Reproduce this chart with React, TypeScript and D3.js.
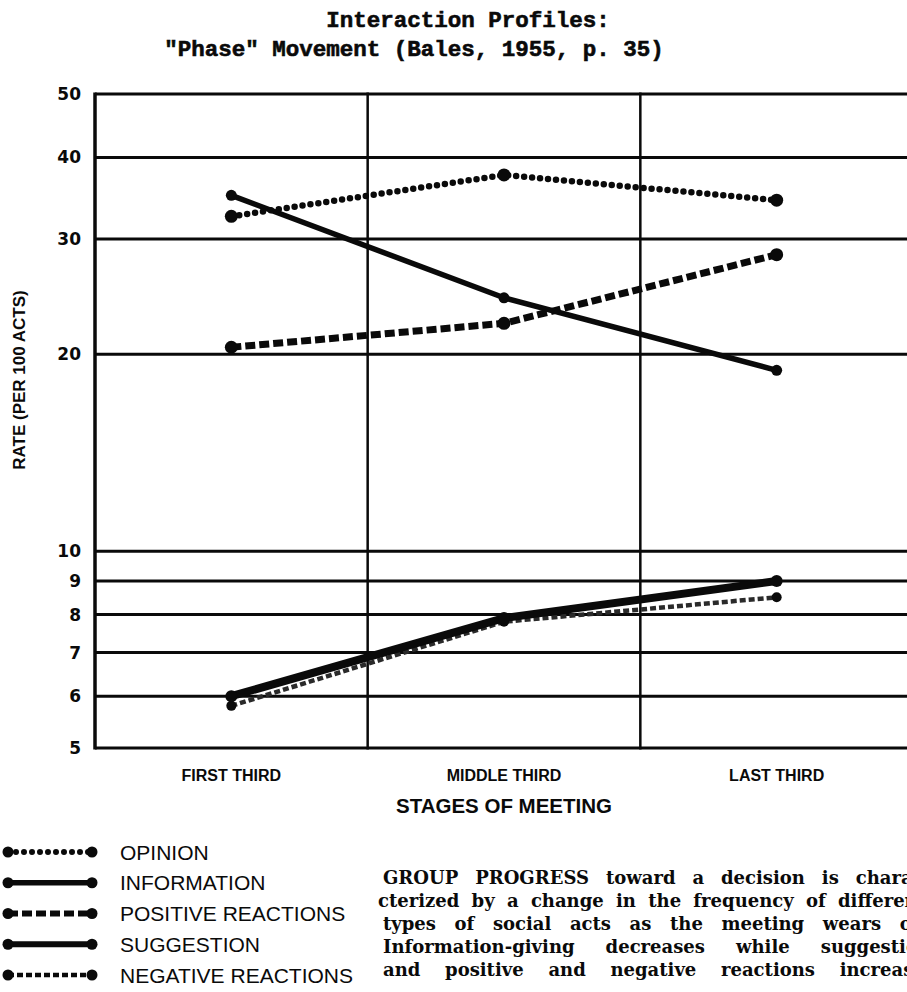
import React, { useEffect, useRef } from 'react';
import * as d3 from 'd3';

// stages on the x axis
const stages = ['FIRST THIRD', 'MIDDLE THIRD', 'LAST THIRD'];
const yTicks = [5, 6, 7, 8, 9, 10, 20, 30, 40, 50];

// rates per 100 acts
const opinion = [32.5, 37.6, 34.4];
const information = [35.0, 24.4, 18.9];
const positiveReactions = [20.5, 22.3, 28.4];
const suggestion = [6.0, 7.9, 9.0];
const negativeReactions = [5.8, 7.8, 8.5];

const seriesNames = ['OPINION', 'INFORMATION', 'POSITIVE REACTIONS', 'SUGGESTION', 'NEGATIVE REACTIONS'];

const paragraph = [
  'GROUP PROGRESS toward a decision is charac-',
  'cterized by a change in the frequency of different',
  'types of social acts as the meeting wears on.',
  'Information-giving decreases while suggestion',
  'and positive and negative reactions increase.',
];

interface LineStyle {
  width: number;
  dash: string | null;
  cap: string;
  r: number;
  color: string;
}

const styles: Record<string, LineStyle> = {
  OPINION: { width: 6.5, dash: '0 8', cap: 'round', r: 6.5, color: '#0a0a0a' },
  INFORMATION: { width: 5.5, dash: null, cap: 'round', r: 5.5, color: '#0a0a0a' },
  'POSITIVE REACTIONS': { width: 7, dash: '10 4', cap: 'butt', r: 6.5, color: '#0a0a0a' },
  SUGGESTION: { width: 8, dash: null, cap: 'round', r: 6, color: '#0a0a0a' },
  'NEGATIVE REACTIONS': { width: 4.5, dash: '6 3', cap: 'butt', r: 5, color: '#2a2a2a' },
};

const W = 907;
const H = 992;
const plot = { left: 95, right: 913, top: 94, bottom: 748 };

const App: React.FC = () => {
  const svgRef = useRef<SVGSVGElement>(null);

  useEffect(() => {
    if (!svgRef.current) return;
    const svg = d3.select(svgRef.current);
    svg.selectAll('*').remove();

    const ink = '#0a0a0a';

    svg.append('rect').attr('width', W).attr('height', H).attr('fill', '#fff');

    const x = d3.scaleBand<string>().domain(stages).range([plot.left, plot.right]);
    const cx = (s: string) => (x(s) as number) + x.bandwidth() / 2;
    const y = d3.scaleLog().domain([5, 50]).range([plot.bottom, plot.top]);

    // title (typewriter)
    const title = svg.append('g')
      .attr('font-family', '"Liberation Mono", "DejaVu Sans Mono", monospace')
      .attr('font-weight', 'bold')
      .attr('font-size', 22.5)
      .attr('fill', ink)
      .attr('stroke', ink)
      .attr('stroke-width', 0.6)
      .attr('text-anchor', 'middle');
    title.append('text').attr('x', 468).attr('y', 27).text('Interaction Profiles:');
    title.append('text').attr('x', 414).attr('y', 56).text('"Phase" Movement (Bales, 1955, p. 35)');

    // horizontal grid lines
    svg.append('g')
      .selectAll('line')
      .data(yTicks)
      .join('line')
      .attr('x1', plot.left)
      .attr('x2', plot.right)
      .attr('y1', (d) => y(d))
      .attr('y2', (d) => y(d))
      .attr('stroke', ink)
      .attr('stroke-width', 3);

    // vertical column borders
    const edges = stages.map((s) => x(s) as number).concat([plot.right]);
    svg.append('g')
      .selectAll('line')
      .data(edges)
      .join('line')
      .attr('x1', (d) => d)
      .attr('x2', (d) => d)
      .attr('y1', plot.top - 1.5)
      .attr('y2', plot.bottom + 1.5)
      .attr('stroke', ink)
      .attr('stroke-width', (_, i) => (i === 0 ? 3.5 : 2.5));

    // y tick labels
    svg.append('g')
      .attr('font-family', '"DejaVu Sans", sans-serif')
      .attr('font-weight', 'bold')
      .attr('font-size', 17)
      .attr('fill', ink)
      .attr('text-anchor', 'end')
      .selectAll('text')
      .data(yTicks)
      .join('text')
      .attr('x', 81)
      .attr('y', (d) => y(d))
      .attr('dy', '0.36em')
      .text((d) => d);

    // y axis title
    svg.append('text')
      .attr('transform', `translate(25, 380) rotate(-90)`)
      .attr('text-anchor', 'middle')
      .attr('font-family', '"Liberation Sans", Arial, sans-serif')
      .attr('font-weight', 'bold')
      .attr('font-size', 17)
      .attr('fill', ink)
      .text('RATE (PER 100 ACTS)');

    // x tick labels
    svg.append('g')
      .attr('font-family', '"Liberation Sans", Arial, sans-serif')
      .attr('font-weight', 'bold')
      .attr('font-size', 16)
      .attr('fill', ink)
      .attr('text-anchor', 'middle')
      .selectAll('text')
      .data(stages)
      .join('text')
      .attr('x', (d) => cx(d))
      .attr('y', 781)
      .text((d) => d);

    svg.append('text')
      .attr('x', cx(stages[1]))
      .attr('y', 813)
      .attr('text-anchor', 'middle')
      .attr('font-family', '"Liberation Sans", Arial, sans-serif')
      .attr('font-weight', 'bold')
      .attr('font-size', 20.5)
      .attr('fill', ink)
      .text('STAGES OF MEETING');

    // series lines, drawn bottom-most first
    const seriesValues = [opinion, information, positiveReactions, suggestion, negativeReactions];
    const order = [4, 3, 2, 1, 0];
    const line = d3.line<[string, number]>()
      .x((d) => cx(d[0]))
      .y((d) => y(d[1]));

    const lines = svg.append('g');
    order.forEach((i) => {
      const name = seriesNames[i];
      const st = styles[name];
      const pts = stages.map((s, j) => [s, seriesValues[i][j]] as [string, number]);
      const g = lines.append('g');
      g.append('path')
        .attr('d', line(pts))
        .attr('fill', 'none')
        .attr('stroke', st.color)
        .attr('stroke-width', st.width)
        .attr('stroke-linecap', st.cap)
        .attr('stroke-linejoin', 'round')
        .attr('stroke-dasharray', st.dash);
      g.selectAll('circle')
        .data(pts)
        .join('circle')
        .attr('cx', (d) => cx(d[0]))
        .attr('cy', (d) => y(d[1]))
        .attr('r', st.r)
        .attr('fill', ink);
    });

    // legend
    const legendY = d3.scalePoint<string>().domain(seriesNames).range([852, 975]);
    const legend = svg.append('g');
    seriesNames.forEach((name) => {
      const st = styles[name];
      const ly = legendY(name) as number;
      legend.append('line')
        .attr('x1', 8)
        .attr('x2', 92)
        .attr('y1', ly)
        .attr('y2', ly)
        .attr('stroke', ink)
        .attr('stroke-width', Math.min(st.width, 6))
        .attr('stroke-linecap', st.cap)
        .attr('stroke-dasharray', st.dash);
      [8, 92].forEach((lx) => {
        legend.append('circle').attr('cx', lx).attr('cy', ly).attr('r', 5.5).attr('fill', ink);
      });
      legend.append('text')
        .attr('x', 120)
        .attr('y', ly)
        .attr('dy', '0.36em')
        .attr('font-family', '"Liberation Sans", Arial, sans-serif')
        .attr('font-size', 21)
        .attr('fill', ink)
        .text(name);
    });

    // caption paragraph: justified by widening word gaps, runs off the right edge
    const para = svg.append('g')
      .attr('font-family', '"DejaVu Serif", "Liberation Serif", serif')
      .attr('font-weight', 'bold')
      .attr('font-size', 18)
      .attr('fill', ink);
    const colWidth = 548;
    paragraph.forEach((txt, i) => {
      const t = para.append('text')
        .attr('x', i === 1 ? 378 : 383)
        .attr('y', 884 + i * 23)
        .text(txt);
      const natural = (t.node() as SVGTextElement).getComputedTextLength();
      const gaps = txt.split(' ').length - 1;
      if (gaps > 0 && natural < colWidth) {
        t.attr('word-spacing', (colWidth - natural) / gaps);
      }
    });
  }, []);

  return (
    <div style={{ position: 'absolute', left: 0, top: 0 }}>
      <svg ref={svgRef} width={W} height={H} style={{ display: 'block' }} />
    </div>
  );
};

export default App;
